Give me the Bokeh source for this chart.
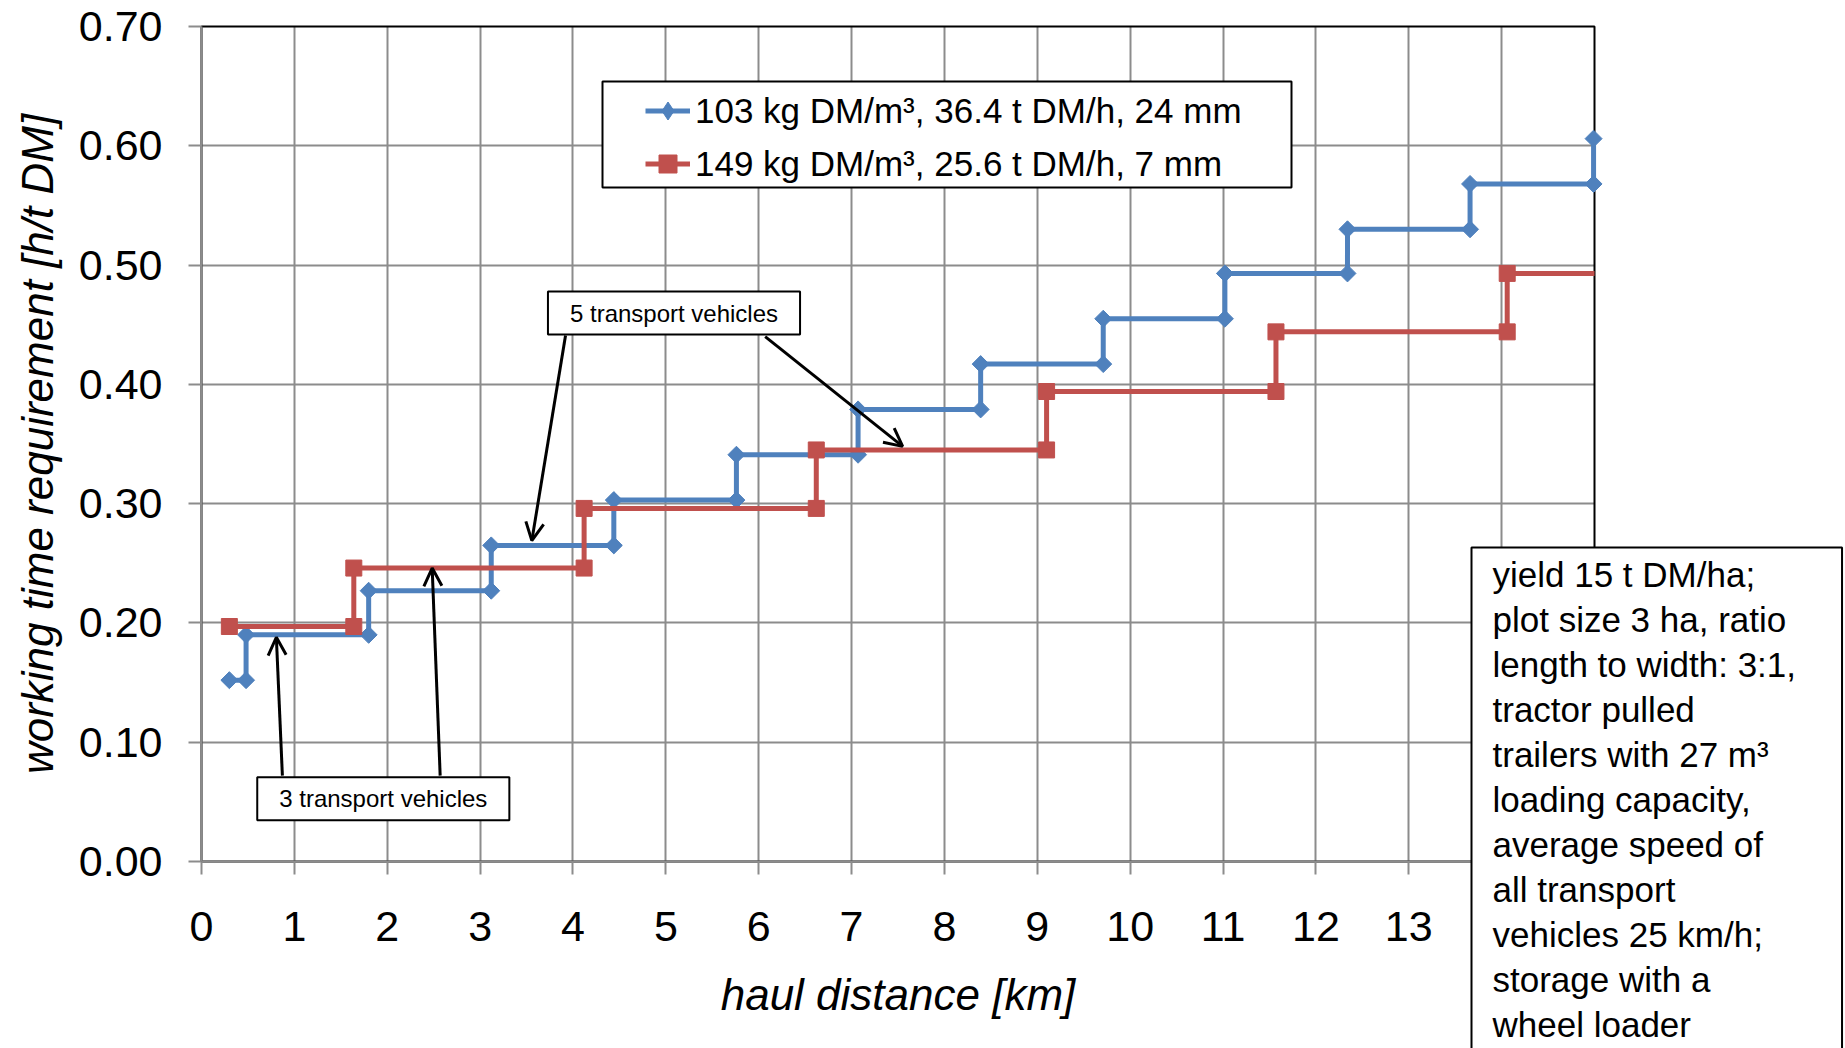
import math
from bokeh.plotting import figure
from bokeh.models import (Range1d, FixedTicker, NumeralTickFormatter, Legend, LegendItem,
                          BoxAnnotation, Label, Arrow, OpenHead)
from bokeh.embed import file_html
from bokeh.resources import INLINE

# ---------------- data ----------------
blue_label = "103 kg DM/m³, 36.4 t DM/h, 24 mm"
red_label = "149 kg DM/m³, 25.6 t DM/h, 7 mm"

blue_x = [0.30, 0.48, 0.48, 1.80, 1.80, 3.12, 3.12, 4.44, 4.44, 5.76, 5.76, 7.07, 7.07,
          8.39, 8.39, 9.71, 9.71, 11.02, 11.02, 12.34, 12.34, 13.66, 13.66, 14.99, 14.99]
blue_y = [0.152, 0.152, 0.190, 0.190, 0.227, 0.227, 0.265, 0.265, 0.303, 0.303, 0.341, 0.341,
          0.379, 0.379, 0.417, 0.417, 0.455, 0.455, 0.493, 0.493, 0.530, 0.530, 0.568, 0.568, 0.606]

red_x = [0.30, 1.64, 1.64, 4.12, 4.12, 6.62, 6.62, 9.10, 9.10, 11.57, 11.57, 14.06, 14.06, 15.00]
red_y = [0.197, 0.197, 0.246, 0.246, 0.296, 0.296, 0.345, 0.345, 0.394, 0.394, 0.444, 0.444,
         0.493, 0.493]
red_marker_count = 13  # last point of the red series has no marker

x_ticks = [0, 1, 2, 3, 4, 5, 6, 7, 8, 9, 10, 11, 12, 13, 14, 15]
y_ticks = [0.0, 0.1, 0.2, 0.3, 0.4, 0.5, 0.6, 0.7]
x_min, x_max = 0, 15
y_min, y_max = 0.0, 0.7

x_title = "haul distance [km]"
y_title = "working time requirement [h/t DM]"

note_text = ("yield 15 t DM/ha;\nplot size 3 ha, ratio\nlength to width: 3:1,\ntractor pulled\n"
             "trailers with 27 m³\nloading capacity,\naverage speed of\nall transport\n"
             "vehicles 25 km/h;\nstorage with a\nwheel loader")
label5 = "5 transport vehicles"
label3 = "3 transport vehicles"

# arrows: (x_start, y_start, x_end, y_end) in data units
arrows = [
    (3.92, 0.441, 3.557, 0.269),
    (6.07, 0.440, 7.55, 0.348),
    (0.871, 0.072, 0.806, 0.188),
    (2.57, 0.072, 2.484, 0.246),
]

# ---------------- layout (pixels) ----------------
W, H = 1845, 1048
PL, PR, PT, PB = 201, 1594, 26, 861          # plot area edges inside the canvas
sx = (PR - PL) / (x_max - x_min)
sy = (PB - PT) / (y_max - y_min)
# the frame covers the whole canvas so that the note box can overlap the axis area
xr = Range1d(x_min - PL / sx, x_max + (W - PR) / sx)
yr = Range1d(y_min - (H - PB) / sy, y_max + PT / sy)

def dx(px):
    return x_min + (px - PL) / sx

def dy(py):
    return y_min + (PB - py) / sy

FONT = "Liberation Sans"
BLUE = "#4F81BD"
RED = "#C0504D"
GRID = "#8c8c8c"

p = figure(width=W, height=H, x_range=xr, y_range=yr,
           output_backend="svg", toolbar_location=None,
           min_border_left=0, min_border_right=0, min_border_top=0, min_border_bottom=0,
           background_fill_color="white", border_fill_color="white")
p.outline_line_color = None

p.xaxis.ticker = FixedTicker(ticks=x_ticks)
p.yaxis.ticker = FixedTicker(ticks=y_ticks)
p.yaxis.formatter = NumeralTickFormatter(format="0.00")
p.xaxis.fixed_location = y_min
p.yaxis.fixed_location = x_min
p.xaxis.bounds = (x_min, x_max)
p.yaxis.bounds = (y_min, y_max)
for ax in (p.xaxis[0], p.yaxis[0]):
    ax.axis_line_color = GRID
    ax.axis_line_width = 2
    ax.major_tick_line_color = GRID
    ax.major_tick_line_width = 2
    ax.major_tick_out = 13
    ax.major_tick_in = 0
    ax.minor_tick_line_color = None
    ax.major_label_text_font = FONT
    ax.major_label_text_font_size = "43px"
    ax.major_label_text_color = "black"
p.xaxis.major_label_standoff = 37
p.yaxis.major_label_standoff = 26

p.xgrid.ticker = FixedTicker(ticks=x_ticks[1:-1])
p.ygrid.ticker = FixedTicker(ticks=y_ticks[1:-1])
p.xgrid.cross_bounds = (y_min, y_max)
p.ygrid.cross_bounds = (x_min, x_max)
p.grid.grid_line_color = GRID
p.grid.grid_line_width = 2
p.grid.grid_line_alpha = 1

# plot-area border (black top/right; axes draw grey over left/bottom)
p.add_layout(BoxAnnotation(left=x_min, right=x_max, bottom=y_min, top=y_max,
                           fill_alpha=0, line_color="black", line_alpha=1, line_width=2,
                           level="underlay"))

# axis titles
p.add_layout(Label(x=(x_min + x_max) / 2, y=dy(994), text=x_title, anchor="center",
                   text_font=FONT, text_font_size="44px", text_font_style="italic",
                   text_color="black"))
p.add_layout(Label(x=dx(37), y=(y_min + y_max) / 2, text=y_title, anchor="center",
                   angle=math.pi / 2,
                   text_font=FONT, text_font_size="44px", text_font_style="italic",
                   text_color="black"))

# ---------------- series ----------------
blue_line = p.line(blue_x, blue_y, line_color=BLUE, line_width=5)
blue_pts = p.scatter(blue_x, blue_y, marker="square", angle=math.pi / 4, size=12,
                     fill_color=BLUE, line_color=BLUE)
# same points drawn as diamonds only in the legend key
blue_key = p.scatter(blue_x, blue_y, marker="diamond", fill_color=BLUE, line_color=BLUE,
                     visible=False)
red_line = p.line(red_x, red_y, line_color=RED, line_width=5)
red_pts = p.scatter(red_x[:red_marker_count], red_y[:red_marker_count], marker="square",
                    size=16, fill_color=RED, line_color=RED)

# ---------------- arrows & callouts ----------------
for (x0, y0, x1, y1) in arrows:
    p.add_layout(Arrow(end=OpenHead(size=18, line_width=3, line_color="black"),
                       x_start=x0, y_start=y0, x_end=x1, y_end=y1,
                       line_width=3, line_color="black"))

for txt, cx, cy in ((label5, dx(673.5), dy(312.5)), (label3, dx(382.8), dy(798.3))):
    p.add_layout(Label(x=cx, y=cy, text=txt, anchor="center",
                       text_font=FONT, text_font_size="24px", text_color="black",
                       padding=dict(left=22, right=22, top=8, bottom=8),
                       background_fill_color="white", background_fill_alpha=1,
                       border_line_color="black", border_line_width=2))

# ---------------- legend ----------------
p.add_layout(BoxAnnotation(left=dx(602), right=dx(1291), bottom=dy(187), top=dy(81),
                           fill_color="white", fill_alpha=1,
                           line_color="black", line_alpha=1, line_width=2))
legend = Legend(items=[LegendItem(label=blue_label, renderers=[blue_line, blue_key]),
                       LegendItem(label=red_label, renderers=[red_line, red_pts])],
                location=(645, H - 190), padding=0, margin=0, spacing=0,
                label_height=53, glyph_height=53, glyph_width=45, label_standoff=5,
                label_text_font=FONT, label_text_font_size="35px", label_text_color="black",
                background_fill_alpha=0, border_line_alpha=0)
p.add_layout(legend, "center")

# ---------------- note box ----------------
p.add_layout(Label(x=dx(1471), y=dy(547), text=note_text, anchor="top_left",
                   text_font=FONT, text_font_size="35px", text_color="black",
                   text_line_height=1.156,
                   padding=dict(left=21, right=46, top=7, bottom=30),
                   background_fill_color="white", background_fill_alpha=1,
                   border_line_color="black", border_line_width=2))

open("out.html", "w").write(file_html(p, INLINE))
